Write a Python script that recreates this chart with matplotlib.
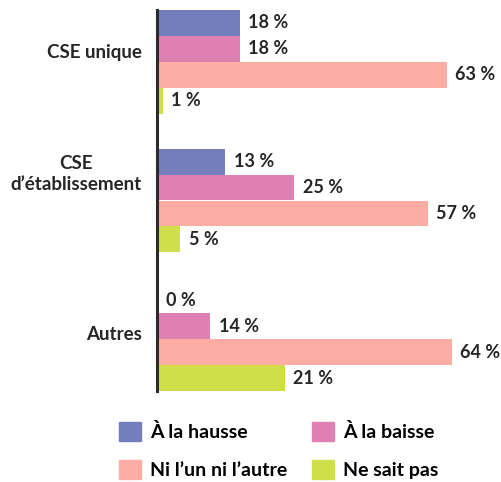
import matplotlib.pyplot as plt
import numpy as np
from matplotlib.patches import Patch

plt.rcParams['font.family'] = ['Lato', 'DejaVu Sans']
plt.rcParams['font.weight'] = 'bold'

# data
categories = ['CSE unique', 'CSE\nd’établissement', 'Autres']
series = ['À la hausse', 'À la baisse', 'Ni l’un ni l’autre', 'Ne sait pas']
# percentages printed on the bars
labels = [
    [18, 13, 0],   # À la hausse
    [18, 25, 14],  # À la baisse
    [63, 57, 64],  # Ni l'un ni l'autre
    [1, 5, 21],    # Ne sait pas
]
# bar lengths as drawn in the picture (not exactly to scale with the labels)
lengths = [
    [18, 14.8, 0],
    [18, 29.8, 11.6],
    [63, 58.9, 64.1],
    [1.3, 5, 27.8],
]
colors = ['#747EBC', '#DF80B3', '#FDADA4', '#CFDF4B']
label_offsets = [-0.065, -0.19, -0.035]

fig = plt.figure(figsize=(5.01, 4.82), dpi=100)
ax = fig.add_axes([157 / 501, 91 / 482, 344 / 501, 381 / 482])

bar_h = 0.187
y_groups = np.arange(len(categories))
for i, (name, lens, labs, col) in enumerate(zip(series, lengths, labels, colors)):
    ys = y_groups - 1.5 * bar_h + i * bar_h
    ax.barh(ys, lens, height=bar_h, color=col, label=name)
    for y, v, t in zip(ys, lens, labs):
        ax.text(v + 1.85, y, f'{t} %', va='center', ha='left',
                fontsize=13, fontweight='bold', color='#262626')

ax.set_xlim(0, 344 / 4.6)
ax.set_ylim(2 + 2 * bar_h, -2 * bar_h)
ax.set_xticks([])
ax.set_yticks([])
for s in ['top', 'right', 'bottom']:
    ax.spines[s].set_visible(False)
ax.spines['left'].set_linewidth(2.2)
ax.spines['left'].set_color('#2b2b2b')

for y, cat, off in zip(y_groups, categories, label_offsets):
    ax.text(-3.3, y + off, cat, ha='right', va='center', multialignment='center',
            fontsize=13.5, fontweight='bold', color='#262626', linespacing=1.3)

handles = [Patch(color=c) for c in colors]
order = [0, 2, 1, 3]
fig.legend([handles[k] for k in order], [series[k] for k in order],
           ncol=2, loc='lower left', bbox_to_anchor=(119 / 501, 3 / 482),
           frameon=False, handlelength=1.13, handleheight=1.13,
           handletextpad=0.45, columnspacing=1.3, labelspacing=0.95,
           borderpad=0, borderaxespad=0,
           prop={'weight': 'bold', 'size': 14})

fig.savefig('out.png', dpi=100)
